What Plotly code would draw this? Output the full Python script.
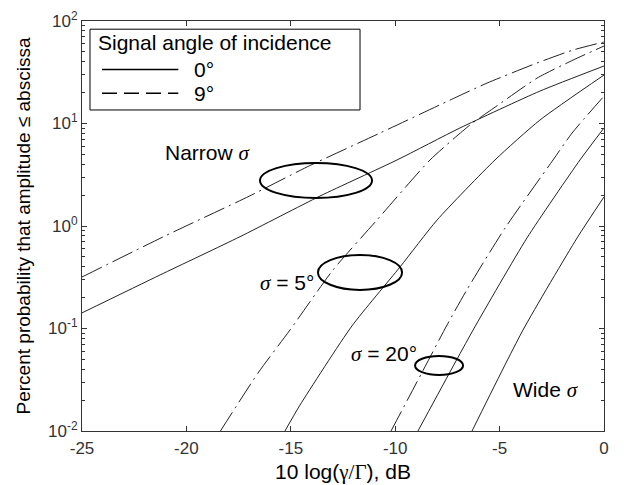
import plotly.graph_objects as go

# ---------------- data ----------------
# x: 10 log(gamma/Gamma), dB ; y: percent probability
narrow_0_x = [-25, -21.26, -17.43, -13.6, -9.91, -6.9, -3.07, 0]
narrow_0_y = [0.142, 0.333, 0.787, 1.96, 4.41, 9.04, 20.7, 36.4]

narrow_9_x = [-25, -21.0, -17.0, -14.22, -10.73, -7.38, -5.6, -3.21, -1.48, 0]
narrow_9_y = [0.318, 0.804, 1.95, 3.77, 8.07, 16.9, 24.8, 38.9, 52.1, 62.4]

s5_0_x = [-15.28, -14.56, -12.07, -9.77, -7.99, -5.22, -3.07, 0]
s5_0_y = [0.01, 0.0179, 0.106, 0.398, 1.146, 4.41, 10.8, 29.7]

s5_9_x = [-18.37, -16.57, -15.04, -12.98, -10.87, -8.33, -6.42, -5.08, -3.21, -1.48, 0]
s5_9_y = [0.01, 0.0368, 0.0966, 0.372, 1.146, 4.41, 9.66, 15.1, 27.7, 41.6, 57.0]

s20_0_x = [-8.91, -6.27, -3.69, -1.15, 0]
s20_0_y = [0.01, 0.0966, 0.764, 4.41, 9.04]

s20_9_x = [-10.2, -8.48, -7.52, -6.56, -4.74, -2.44, -1.53, 0]
s20_9_y = [0.01, 0.046, 0.108, 0.24, 0.955, 4.41, 8.07, 18.5]

wide_0_x = [-6.32, -3.88, -1.29, 0]
wide_0_y = [0.01, 0.0966, 0.764, 1.92]

x_tickvals = [-25, -20, -15, -10, -5, 0]
x_ticktext = ["-25", "-20", "-15", "-10", "-5", "0"]
y_tickvals = [0.01, 0.1, 1, 10, 100]
y_ticktext = ["10<sup>-2</sup>", "10<sup>-1</sup>", "10<sup>0</sup>", "10<sup>1</sup>", "10<sup>2</sup>"]

# ellipse annotations: (x0, x1, y0, y1) in data units
ellipses = [
    (-16.475, -11.11, 1.875, 4.12),
    (-13.70, -9.67, 0.238, 0.521),
    (-9.05, -6.75, 0.0352, 0.0540),
]

FONT = "Liberation Sans, Arial, sans-serif"
SERIF = "Liberation Serif, Times New Roman, serif"
SIG = '<span style="font-family:%s"><i>σ</i></span>' % SERIF
LINE_COLOR = "#222222"
DASH = "22px,5px,2px,5px"

fig = go.Figure()

series = [
    (narrow_0_x, narrow_0_y, "solid"),
    (narrow_9_x, narrow_9_y, DASH),
    (s5_0_x, s5_0_y, "solid"),
    (s5_9_x, s5_9_y, DASH),
    (s20_0_x, s20_0_y, "solid"),
    (s20_9_x, s20_9_y, DASH),
    (wide_0_x, wide_0_y, "solid"),
]
for xs, ys, dash in series:
    fig.add_trace(go.Scatter(
        x=xs, y=ys, mode="lines",
        line=dict(color=LINE_COLOR, width=1, dash=dash, shape="spline", smoothing=0.6),
        showlegend=False, hoverinfo="skip"))

shapes = []
for x0, x1, y0, y1 in ellipses:
    shapes.append(dict(type="circle", xref="x", yref="y", x0=x0, x1=x1, y0=y0, y1=y1,
                       line=dict(color="black", width=2)))

# legend box (paper coords)
shapes.append(dict(type="rect", xref="paper", yref="paper", x0=0.0153, x1=0.5326, y0=0.783, y1=0.980,
                   line=dict(color="black", width=1), fillcolor="white", layer="above"))
shapes.append(dict(type="line", xref="paper", yref="paper", x0=0.0383, x1=0.1845, y0=0.882, y1=0.882,
                   line=dict(color="black", width=1.5), layer="above"))
shapes.append(dict(type="line", xref="paper", yref="paper", x0=0.0383, x1=0.1845, y0=0.824, y1=0.824,
                   line=dict(color="black", width=1.5, dash="15px,7px"), layer="above"))

LEG_FONT = dict(size=21, color="black", family=FONT)
ANN_FONT = dict(size=21, color="black", family=FONT)
annotations = [
    dict(xref="paper", yref="paper", x=0.0268, y=0.947, text="Signal angle of incidence",
         showarrow=False, xanchor="left", yanchor="middle", font=LEG_FONT),
    dict(xref="paper", yref="paper", x=0.210, y=0.882, text="0°",
         showarrow=False, xanchor="left", yanchor="middle", font=LEG_FONT),
    dict(xref="paper", yref="paper", x=0.210, y=0.824, text="9°",
         showarrow=False, xanchor="left", yanchor="middle", font=LEG_FONT),
    dict(xref="x", yref="y", x=-18.97, y=0.715, text="Narrow " + SIG, showarrow=False, font=ANN_FONT),
    dict(xref="x", yref="y", x=-15.18, y=-0.556, text=SIG + " = 5°", showarrow=False, font=ANN_FONT),
    dict(xref="x", yref="y", x=-10.52, y=-1.250, text=SIG + " = 20°", showarrow=False, font=ANN_FONT),
    dict(xref="x", yref="y", x=-2.78, y=-1.60, text="Wide " + SIG, showarrow=False, font=ANN_FONT),
]

fig.update_layout(
    width=632, height=485,
    margin=dict(l=82, r=28, t=21, b=54),
    paper_bgcolor="white", plot_bgcolor="white",
    shapes=shapes, annotations=annotations,
    font=dict(family=FONT, color="black"),
    xaxis=dict(
        range=[-25, 0], tickmode="array", tickvals=x_tickvals, ticktext=x_ticktext,
        ticks="inside", ticklen=5, tickcolor="#333", showline=True, linecolor="#333", linewidth=1,
        mirror="ticks", showgrid=False, zeroline=False, ticklabelstandoff=2, automargin=False,
        tickfont=dict(size=17, color="#333", family=FONT),
        title=dict(text='10 log(<span style="font-family:%s">γ/Γ</span>), dB' % SERIF,
                   font=dict(size=21, color="black", family=FONT), standoff=6),
    ),
    yaxis=dict(
        type="log", range=[-2, 2], tickmode="array", tickvals=y_tickvals, ticktext=y_ticktext,
        ticks="inside", ticklen=5, tickcolor="#333", showline=True, linecolor="#333", linewidth=1,
        mirror="ticks", showgrid=False, zeroline=False, automargin=False,
        minor=dict(ticks="inside", ticklen=3, tickcolor="#333", dtick="D1", showgrid=False),
        tickfont=dict(size=17, color="#333", family=FONT),
        title=dict(text="Percent probability that amplitude ≤ abscissa",
                   font=dict(size=19, color="black", family=FONT), standoff=12),
    ),
)

fig.write_html("out.html")
